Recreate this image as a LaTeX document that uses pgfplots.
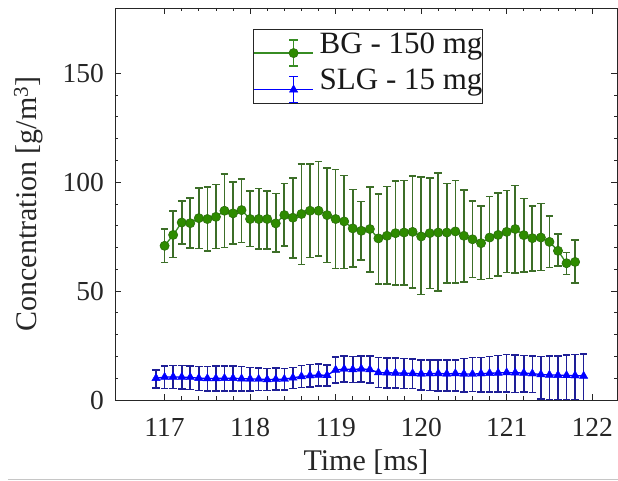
\documentclass[border=0pt]{standalone}
\usepackage{fontspec}
\setmainfont{Liberation Serif}
\usepackage{pgfplots}
\usepackage{pgfplotstable}
\pgfplotsset{compat=1.18}
\definecolor{gmark}{RGB}{46,139,0}
\definecolor{gedge}{RGB}{40,110,10}
\definecolor{gbar}{RGB}{60,110,40}
\definecolor{gline}{RGB}{55,140,35}
\definecolor{bmark}{RGB}{0,0,255}
\definecolor{bbar}{RGB}{30,30,150}
\definecolor{axcol}{RGB}{38,38,38}

\pgfplotstableread{
x y hi lo
117.0 70.8 78.5 63.1
117.1 75.8 86.9 65.4
117.2 81.5 91.4 71.5
117.3 81.2 92.8 69.7
117.4 83.5 97.4 69.5
117.5 83.1 97.7 68.3
117.6 84.1 98.9 69.5
117.7 86.9 103.8 70.0
117.8 85.7 100.0 71.5
117.9 87.2 101.5 72.3
118.0 83.1 96.1 70.5
118.1 83.1 97.2 69.2
118.2 83.1 96.1 69.2
118.3 81.1 94.9 68.0
118.4 84.9 99.5 70.8
118.5 83.7 102.0 65.1
118.6 85.4 108.5 62.3
118.7 86.9 108.5 65.4
118.8 86.9 109.5 66.2
118.9 84.9 106.5 63.1
119.0 83.1 105.8 60.3
119.1 82.0 103.1 60.3
119.2 78.8 96.6 61.2
119.3 77.7 91.1 64.3
119.4 78.5 97.7 58.8
119.5 74.2 94.6 53.4
119.6 75.4 98.0 53.2
119.7 76.6 100.5 52.9
119.8 76.9 100.8 52.9
119.9 77.2 102.8 51.5
120.0 75.1 102.3 48.5
120.1 76.6 102.0 51.2
120.2 76.9 104.2 50.0
120.3 76.9 99.5 53.8
120.4 77.4 100.8 53.8
120.5 75.4 96.5 54.2
120.6 73.8 91.5 56.2
120.7 72.0 89.2 55.4
120.8 74.6 93.4 55.7
120.9 75.8 95.1 56.9
121.0 77.2 96.2 58.5
121.1 78.5 98.5 58.2
121.2 75.7 92.6 58.8
121.3 74.3 89.2 59.2
121.4 74.6 90.3 59.5
121.5 72.6 84.6 60.8
121.6 68.5 76.2 61.5
121.7 62.8 67.7 57.7
121.8 63.4 73.4 53.8
}\greentab

\pgfplotstableread{
x y hi lo
116.9 10.0 13.8 5.4
117.0 10.5 15.7 5.3
117.1 10.6 15.9 5.3
117.2 10.5 15.8 5.0
117.3 10.4 15.6 4.8
117.4 10.0 15.4 4.3
117.5 9.9 15.4 4.2
117.6 9.9 15.5 4.1
117.7 10.0 15.6 4.2
117.8 10.0 15.5 4.2
117.9 9.8 15.4 4.0
118.0 9.7 15.0 4.0
118.1 9.6 14.6 4.3
118.2 9.4 14.5 4.4
118.3 9.5 14.6 4.5
118.4 9.6 14.5 4.6
118.5 10.2 15.0 5.3
118.6 10.8 15.8 5.8
118.7 11.2 16.3 6.0
118.8 11.5 16.5 6.5
118.9 11.3 16.2 6.4
119.0 13.8 19.8 7.8
119.1 14.2 20.2 8.2
119.2 14.0 20.0 8.0
119.3 14.3 20.3 8.4
119.4 14.0 20.2 7.8
119.5 12.6 19.5 5.7
119.6 12.5 19.4 5.6
119.7 12.4 19.3 5.5
119.8 12.3 19.0 5.3
119.9 12.2 18.8 5.3
120.0 12.0 18.4 4.6
120.1 12.1 18.5 4.4
120.2 12.2 18.4 4.0
120.3 12.0 18.3 4.1
120.4 12.2 18.5 4.0
120.5 12.0 19.0 3.8
120.6 11.9 19.5 3.9
120.7 12.1 19.6 3.8
120.8 12.3 20.0 3.8
120.9 12.4 20.4 3.6
121.0 12.6 20.8 3.6
121.1 12.5 20.6 3.5
121.2 12.4 20.5 3.6
121.3 12.1 20.2 3.4
121.4 11.7 20.0 0.5
121.5 11.5 20.1 0.3
121.6 11.4 20.3 0.2
121.7 11.3 20.6 0.0
121.8 11.2 20.8 0.0
121.9 11.0 21.0 -0.5
}\bluetab

\begin{document}
\begin{tikzpicture}
\path[use as bounding box] (-115pt,-81pt) rectangle (503pt,400pt);
\draw[gray!45, line width=0.8pt] (-107pt,-79pt) -- (503pt,-79pt);
\begin{axis}[
  at={(0,0)}, anchor=south west,
  scale only axis, width=502pt, height=392pt,
  xmin=116.42, xmax=122.29, ymin=0, ymax=180,
  xtick={117,118,119,120,121,122},
  xticklabels={\textrm{117},\textrm{118},\textrm{119},\textrm{120},\textrm{121},\textrm{122}},
  ytick={0,50,100,150},
  yticklabels={\textrm{0},\textrm{50},\textrm{100},\textrm{150}},
  minor x tick num=4, minor y tick num=4,
  tick align=inside,
  major tick length=6pt, minor tick length=3.5pt,
  axis line style={draw=axcol, line width=0.9pt},
  every tick/.style={draw=axcol, line width=0.8pt},
  tick label style={font=\rmfamily\fontsize{27.5}{30}\selectfont, text=axcol, inner sep=0pt},
  xticklabel style={anchor=north, yshift=-18pt},
  yticklabel style={anchor=east, xshift=-11pt},
  label style={font=\fontsize{30}{34}\selectfont, text=axcol, inner sep=0pt},
  xlabel={Time [ms]},
  ylabel={Concentration [g/m\textsuperscript{3}]},
  xlabel style={at={(axis description cs:0.5,-0.1786)}, anchor=base},
  ylabel style={at={(axis description cs:-0.1554,0.5)}, anchor=base},
  legend style={at={(axis description cs:0.275,0.946)}, anchor=north west,
    draw=axcol, line width=0.8pt, fill=white,
    font=\fontsize{31}{34}\selectfont, text=black!90,
    inner xsep=0pt, inner ysep=0.5pt, row sep=0pt,
    nodes={inner sep=0pt, text height=23pt, text depth=10pt, anchor=base west},
    /tikz/every odd column/.style={column sep=6pt}},
  legend cell align=left,
  legend image code/.code={
    \path (0pt,0pt) -- (59pt,0pt);
    \draw[#1, mark=none] (39.5pt,-13pt) -- (39.5pt,13pt) (35pt,-13pt) -- (44pt,-13pt) (35pt,13pt) -- (44pt,13pt);
    \draw[mark repeat=2, mark phase=2, #1] plot coordinates {(20pt,0pt) (39.5pt,0pt) (59pt,0pt)};
  },
]
\addplot[color=gline, line width=1.3pt, mark=*, mark size=4.6pt,
  mark options={fill=gmark, draw=gedge, line width=0.6pt, solid},
  error bars/.cd, y dir=both, y explicit,
  error bar style={color=gbar, line width=1.7pt},
  error mark options={rotate=90, mark size=3.8pt, color=gbar, line width=1.6pt}]
  table[x=x, y=y, y error plus expr=\thisrow{hi}-\thisrow{y}, y error minus expr=\thisrow{y}-\thisrow{lo}] {\greentab};
\addlegendentry{BG - 150 mg\hspace{10pt}}
\addplot[color=bmark, line width=1.3pt, mark=triangle*, mark size=4.8pt,
  mark options={fill=bmark, draw=bmark, line width=0.4pt, solid},
  error bars/.cd, y dir=both, y explicit,
  error bar style={color=bbar, line width=1.6pt},
  error mark options={rotate=90, mark size=3.8pt, color=bbar, line width=1.6pt}]
  table[x=x, y=y, y error plus expr=\thisrow{hi}-\thisrow{y}, y error minus expr=\thisrow{y}-\thisrow{lo}] {\bluetab};
\addlegendentry{SLG - 15 mg\hspace{10pt}}
\end{axis}
\end{tikzpicture}
\end{document}
